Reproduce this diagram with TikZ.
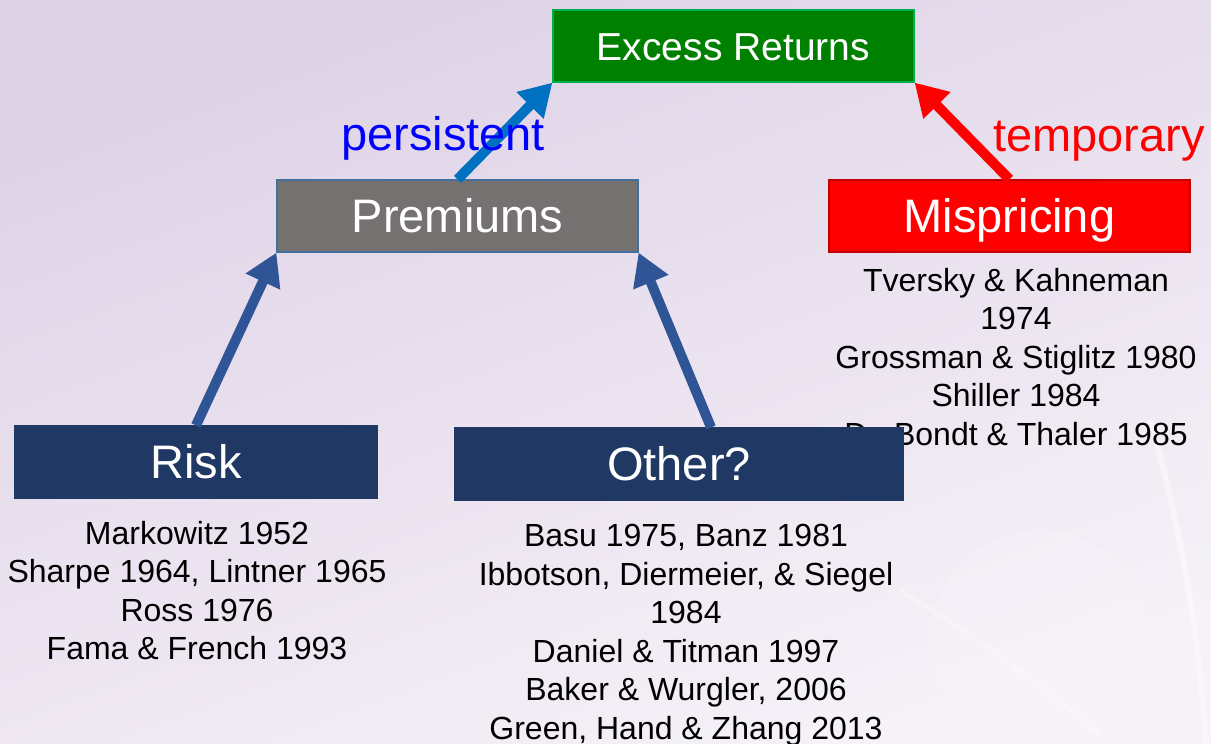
\documentclass[tikz,border=0pt]{standalone}
\usepackage{fontspec}
\setmainfont{Liberation Sans}
\usetikzlibrary{arrows.meta}
\definecolor{bgtop}{HTML}{DED2E6}
\definecolor{bgbot}{HTML}{F6F2F8}
\definecolor{exgreen}{HTML}{008000}
\definecolor{exborder}{HTML}{00B050}
\definecolor{premgray}{HTML}{767171}
\definecolor{premborder}{HTML}{41719C}
\definecolor{misborder}{HTML}{C00000}
\definecolor{navy}{HTML}{203864}
\definecolor{arrblue}{HTML}{2F5597}
\definecolor{arrlight}{HTML}{0070C0}
\tikzset{
  box/.style={draw, line width=1.2pt, inner sep=0pt, minimum height=72pt,
    text=white, text height=33.6pt, text depth=0pt, anchor=center},
  bigtext/.style={font=\fontsize{47}{56}\selectfont},
  reftext/.style={font=\fontsize{32}{38.5}\selectfont, align=center, inner sep=0pt, anchor=north, text=black},
  fatarrow/.style={line width=10pt, -{Triangle[length=32pt,width=36pt]}},
}
\begin{document}
\begin{tikzpicture}[x=1pt,y=-1pt]
% background
\shade[top color=bgtop, bottom color=bgbot, shading angle=20] (0,0) rectangle (1211,744);
\useasboundingbox (0,0) rectangle (1211,744);
\fill[white, opacity=0.12] (1040,640) circle (110);
\draw[white, opacity=0.45, line width=6pt] (1150,420) .. controls (1185,540) and (1200,650) .. (1206,744);
\draw[white, opacity=0.25, line width=5pt] (900,590) .. controls (980,640) and (1050,690) .. (1110,744);

% mispricing references (drawn before Other? box, which covers part of it)
\node[reftext] (misref) at (1016,268) {Tversky \& Kahneman\\1974\\Grossman \& Stiglitz 1980\\Shiller 1984\\De Bondt \& Thaler 1985};

% boxes
\node[box, fill=exgreen, draw=exborder, minimum width=361pt, font=\fontsize{39}{46}\selectfont, text height=28pt] (excess) at (733.5,46) {Excess Returns};
\node[box, bigtext, fill=premgray, draw=premborder, minimum width=361pt] (prem) at (457.5,216) {Premiums};
\node[box, bigtext, fill=red, draw=misborder, minimum width=361pt] (mis) at (1009.5,216) {Mispricing};
\node[box, bigtext, fill=navy, draw=navy, minimum width=362pt] (risk) at (196,462) {Risk};
\node[box, bigtext, fill=navy, draw=navy, minimum width=448pt] (other) at (679,464) {Other?};

% arrows
\draw[fatarrow, arrblue] (risk.north) -- (prem.south west);
\draw[fatarrow, arrblue] ([xshift=32pt]other.north) -- (prem.south east);
\draw[fatarrow, arrlight] (prem.north) -- (excess.south west);
\draw[fatarrow, red] (mis.north) -- (excess.south east);

% labels
\node[bigtext, text=blue, anchor=base west, inner sep=0pt] (persist) at (341,150) {persistent};
\node[bigtext, text=red, anchor=base west, inner sep=0pt] (temp) at (993,151) {temporary};

% references
\node[reftext] (riskref) at (197,521) {Markowitz 1952\\Sharpe 1964, Lintner 1965\\Ross 1976\\Fama \& French 1993};
\node[reftext] (otherref) at (686,524) {Basu 1975, Banz 1981\\Ibbotson, Diermeier, \& Siegel\\1984\\Daniel \& Titman 1997\\Baker \& Wurgler, 2006\\Green, Hand \& Zhang 2013};
\end{tikzpicture}
\end{document}
